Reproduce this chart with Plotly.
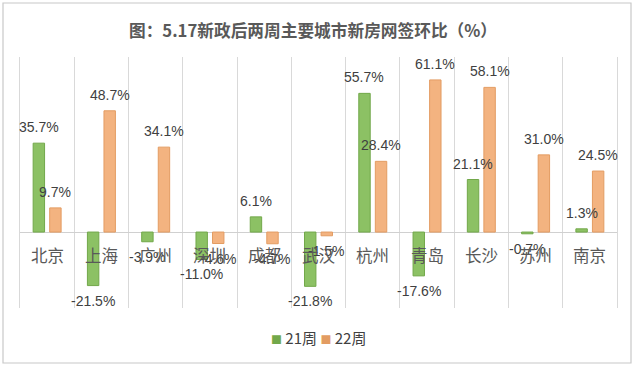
import plotly.graph_objects as go

cities = ["北京", "上海", "广州", "深圳", "成都", "武汉", "杭州", "青岛", "长沙", "苏州", "南京"]
week21 = [35.7, -21.5, -3.9, -11.0, 6.1, -21.8, 55.7, -17.6, 21.1, -0.7, 1.3]
week22 = [9.7, 48.7, 34.1, -4.6, -4.7, -1.5, 28.4, 61.1, 58.1, 31.0, 24.5]
series_names = ["21周", "22周"]
title_text = "图：5.17新政后两周主要城市新房网签环比（%）"

W, H = 640, 370
L, R, T, B = 20, 23, 57, 62
pw, ph = W - L - R, H - T - B

label_font = dict(family="Liberation Sans, Arial, sans-serif", size=14, color="#404040")
cjk = "Noto Sans CJK SC, sans-serif"
colors = ["#8CC164", "#F3B380"]
edges = ["#72A84A", "#E39C62"]

fig = go.Figure()
for name, vals, col, edge in zip(series_names, (week21, week22), colors, edges):
    fig.add_trace(go.Bar(
        x=cities, y=vals, name=name,
        marker=dict(color=col, line=dict(color=edge, width=1)),
    ))

# data labels, placed relative to each bar's value
for vals, xs in ((week21, -8.3), (week22, 8.3)):
    for c, v in zip(cities, vals):
        fig.add_annotation(x=c, y=v, xref="x", yref="y", text=f"{v:.1f}%", showarrow=False,
                           xshift=xs, yshift=(16 if v >= 0 else -15), yanchor="middle",
                           font=label_font)

for c in cities:
    fig.add_annotation(x=c, y=0, xref="x", yref="y", text=c, showarrow=False,
                       yanchor="top", yshift=-9,
                       font=dict(family=cjk, size=16.5, color="#595959"))

def px_x(x):
    return (x - L) / pw
def px_y(y):
    return (H - B - y) / ph

fig.add_shape(type="rect", xref="paper", yref="paper",
              x0=px_x(3), x1=px_x(631), y0=px_y(363), y1=px_y(3),
              line=dict(color="#C8C8C8", width=1.2), layer="below")

# compact legend
legend_parts = []
for name, col, edge in zip(series_names, colors, edges):
    legend_parts.append(
        f"<span style='color:{edge};font-size:11px'>■</span> {name}")
fig.add_annotation(xref="paper", yref="paper", x=px_x(318), y=px_y(337),
                   xanchor="center", yanchor="middle", showarrow=False,
                   text="&nbsp;".join(legend_parts),
                   font=dict(family=cjk, size=15, color="#404040"))

fig.update_layout(
    width=W, height=H,
    margin=dict(l=L, r=R, t=T, b=B, autoexpand=False),
    paper_bgcolor="white", plot_bgcolor="white",
    barmode="group", bargap=0.39, bargroupgap=0.31,
    title=dict(text=f"<b>{title_text}</b>", x=313 / W, xanchor="center",
               y=1 - 31 / H, yanchor="middle",
               font=dict(family=cjk, size=16.7, color="#595959")),
    showlegend=False,
    xaxis=dict(tickson="boundaries", showgrid=True, gridcolor="#D9D9D9", gridwidth=1,
               showticklabels=False, ticks="", range=[-0.5, 10.5], fixedrange=True),
    yaxis=dict(range=[-30.5, 70.3], showgrid=False, showticklabels=False, ticks="",
               zeroline=True, zerolinecolor="#D0D0D0", zerolinewidth=1,
               showline=True, mirror=True, linecolor="#D9D9D9", linewidth=1),
)

fig.write_html("out.html", config={"displayModeBar": False},
               post_script="document.body.style.margin='0';document.body.style.padding='0';")
